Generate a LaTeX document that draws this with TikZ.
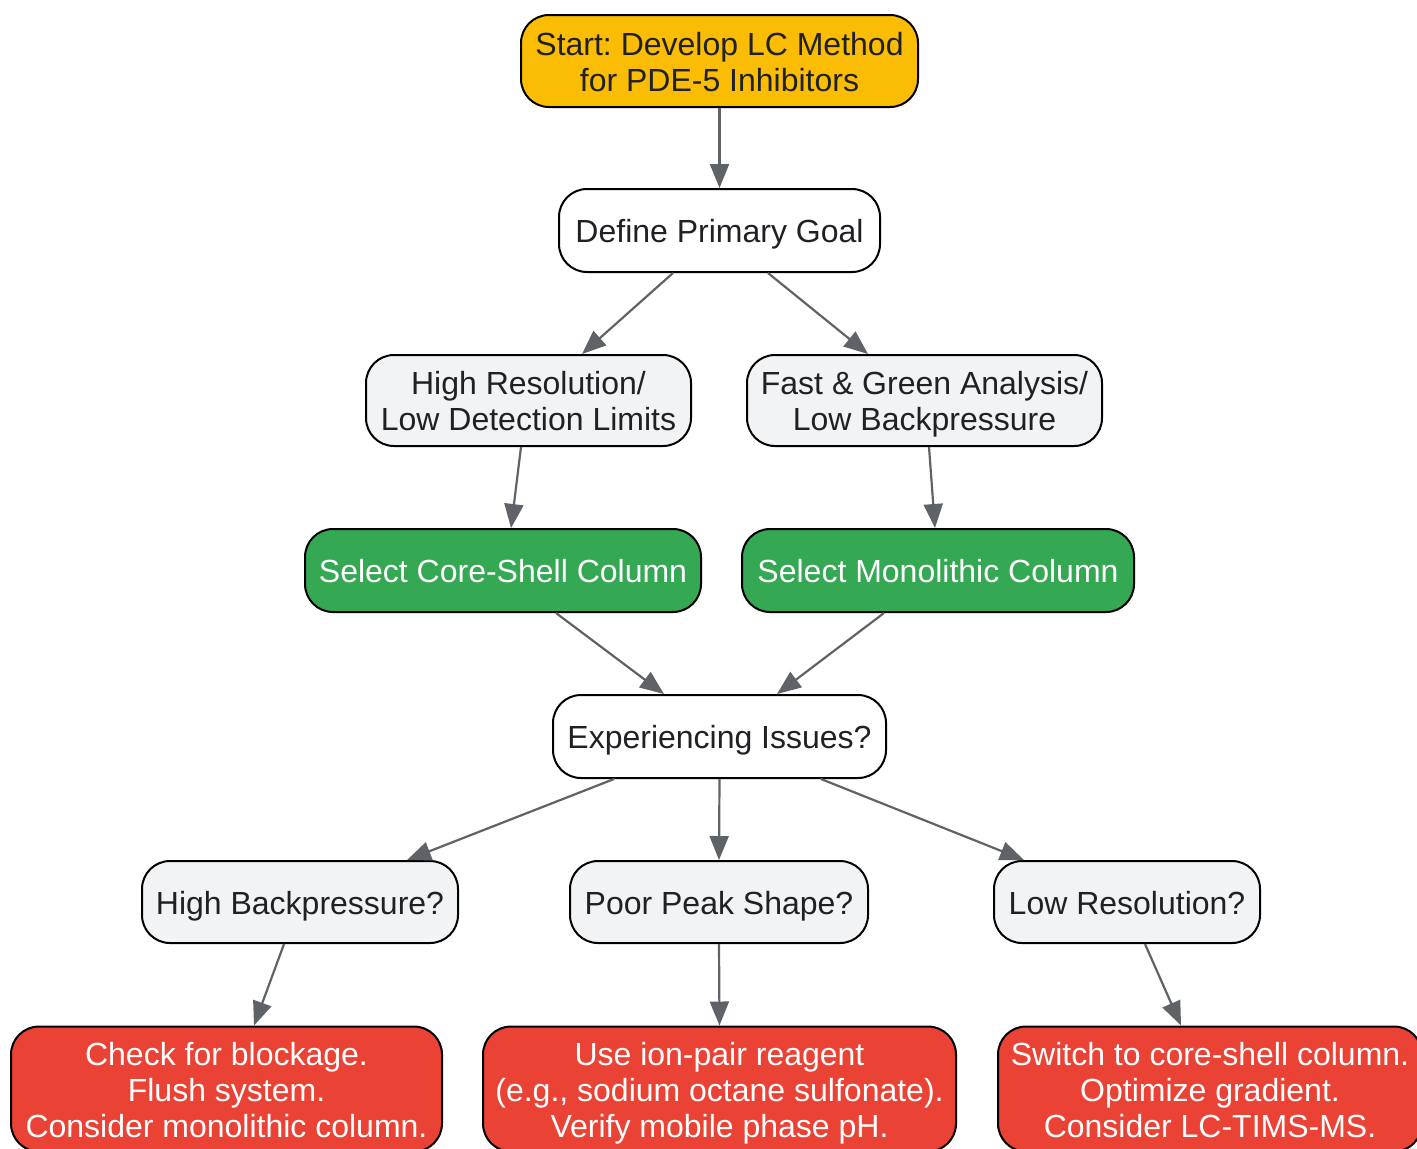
\documentclass[tikz,border=0pt]{standalone}
\usepackage{fontspec}
\setmainfont{Liberation Sans}
\usetikzlibrary{arrows.meta,calc}
\definecolor{txt}{HTML}{202124}
\definecolor{gold}{HTML}{FBBC04}
\definecolor{lgray}{HTML}{F1F3F4}
\definecolor{ggreen}{HTML}{34A853}
\definecolor{gred}{HTML}{EA4335}
\definecolor{edgec}{HTML}{5F6368}
\newcommand\ts{\rule{0pt}{1.0em}}
\newcommand\bs{\rule[-0.25em]{0pt}{0.25em}}
\begin{document}
\frenchspacing
\begin{tikzpicture}[x=0.5pt,y=-0.5pt,
  box/.style={draw=black,line width=1pt,rounded corners=14pt,align=center,inner sep=0pt,
    font=\fontsize{16pt}{18pt}\selectfont\frenchspacing,text=txt},
  startbox/.style={box,fill=gold},
  plainbox/.style={box,fill=white},
  qbox/.style={box,fill=lgray},
  okbox/.style={box,fill=ggreen,text=white},
  fixbox/.style={box,fill=gred,text=white},
  arr/.style={draw=edgec,line width=1.1pt,-{Triangle[length=12pt,width=9.5pt]}}]
\useasboundingbox (0,0) rectangle (1417,1148);
\node[startbox,minimum width=198.5pt,minimum height=46pt] (start) at (719.5,61) {\ts Start: Develop LC Method\\for PDE-5 Inhibitors\bs};
\node[plainbox,minimum width=160.5pt,minimum height=41.5pt] (define) at (719.5,230.5) {\ts Define Primary Goal\bs};
\node[qbox,minimum width=162.5pt,minimum height=45.5pt] (highres) at (528.5,400.5) {\ts High Resolution/\\Low Detection Limits\bs};
\node[qbox,minimum width=177.5pt,minimum height=45.5pt] (fast) at (924.5,400.5) {\ts Fast \& Green Analysis/\\Low Backpressure\bs};
\node[okbox,minimum width=198pt,minimum height=41.5pt] (core) at (503,570.5) {\ts Select Core-Shell Column\bs};
\node[okbox,minimum width=196pt,minimum height=41.5pt] (mono) at (938,570.5) {\ts Select Monolithic Column\bs};
\node[plainbox,minimum width=166.5pt,minimum height=41.5pt] (exp) at (719.5,736.5) {\ts Experiencing Issues?\bs};
\node[qbox,minimum width=158pt,minimum height=41pt] (highbp) at (300,902) {\ts High Backpressure?\bs};
\node[qbox,minimum width=149pt,minimum height=41pt] (poor) at (719,902) {\ts Poor Peak Shape?\bs};
\node[qbox,minimum width=133pt,minimum height=41pt] (lowres) at (1127,902) {\ts Low Resolution?\bs};
\node[fixbox,minimum width=215.5pt,minimum height=62.5pt] (check) at (226.5,1089) {\ts Check for blockage.\\Flush system.\\Consider monolithic column.\bs};
\node[fixbox,minimum width=236.5pt,minimum height=62.5pt] (ion) at (719.5,1089) {\ts Use ion-pair reagent\\(e.g., sodium octane sulfonate).\\Verify mobile phase pH.\bs};
\node[fixbox,minimum width=212pt,minimum height=62.5pt] (switch) at (1210,1089) {\ts Switch to core-shell column.\\Optimize gradient.\\Consider LC-TIMS-MS.\bs};

\draw[arr] (start.south) -- (define.north);
\draw[arr] ($(define.south)+(-46.5,0)$) -- ($(highres.north)+(53.5,0)$);
\draw[arr] ($(define.south)+(48.5,0)$) -- ($(fast.north)+(-56.5,0)$);
\draw[arr] ($(highres.south)+(-7.5,0)$) -- ($(core.north)+(8,0)$);
\draw[arr] ($(fast.south)+(4.5,0)$) -- ($(mono.north)+(-3,0)$);
\draw[arr] ($(core.south)+(53,0)$) -- ($(exp.north)+(-55.5,0)$);
\draw[arr] ($(mono.south)+(-54,0)$) -- ($(exp.north)+(57.5,0)$);
\draw[arr] ($(exp.south)+(-105.5,0)$) -- ($(highbp.north)+(107,0)$);
\draw[arr] (exp.south) -- (poor.north);
\draw[arr] ($(exp.south)+(101.5,0)$) -- ($(lowres.north)+(-103,0)$);
\draw[arr] ($(highbp.south)+(-16,0)$) -- ($(check.north)+(27.5,0)$);
\draw[arr] (poor.south) -- (ion.north);
\draw[arr] ($(lowres.south)+(18,0)$) -- ($(switch.north)+(-29,0)$);
\end{tikzpicture}
\end{document}
